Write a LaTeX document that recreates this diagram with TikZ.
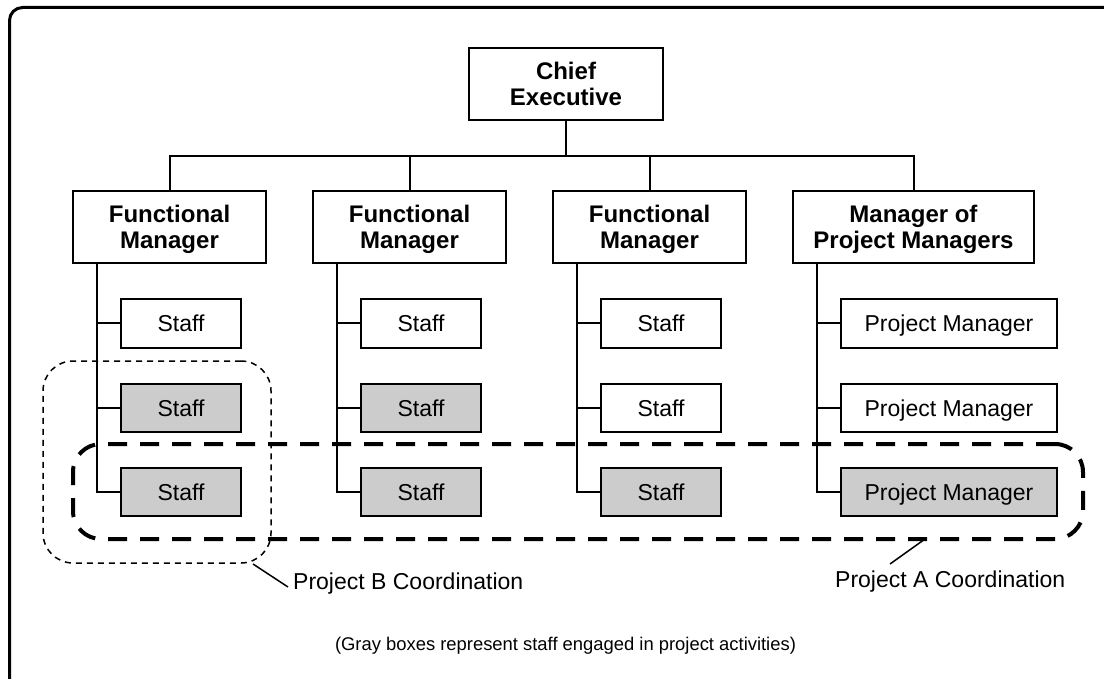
\documentclass[tikz,border=0pt]{standalone}
\usepackage{fontspec}
\setmainfont{Liberation Sans}
\definecolor{boxgray}{RGB}{204,204,204}
\begin{document}
\begin{tikzpicture}[x=1pt,y=-1pt,
  mgr/.style={draw,line width=2pt,minimum width=193pt,minimum height=72pt,align=center,
    font=\fontsize{24}{26}\selectfont\bfseries,inner sep=0pt,text height=43pt,text depth=0pt},
  stf/.style={draw,line width=2pt,minimum width=120pt,minimum height=48.5pt,
    font=\fontsize{23}{26}\selectfont,inner sep=0pt,text height=16.5pt,text depth=0pt},
  pmbox/.style={stf,minimum width=216pt},
  act/.style={fill=boxgray},
  link/.style={line width=2pt},
  lbl/.style={font=\fontsize{23}{26}\selectfont,inner sep=0pt},
]
\useasboundingbox (0,0) rectangle (1104,679);
\clip (0,0) rectangle (1104,679);
\draw[line width=3pt,rounded corners=13pt] (9.5,7.5) rectangle (1140,720);

% top
\node[mgr,minimum width=194pt] (ce) at (566,84) {Chief\\Executive};
\node[mgr] (fm1) at (169.5,227.5) {Functional\\Manager};
\node[mgr] (fm2) at (409.5,227.5) {Functional\\Manager};
\node[mgr] (fm3) at (649.5,227.5) {Functional\\Manager};
\node[mgr,minimum width=241pt] (mpm) at (913.5,227.5) {Manager of\\Project Managers};

\coordinate (bar) at (0,156);
\draw[link] (ce.south) -- (ce.south |- bar);
\draw[link] (fm1.north) -- (fm1.north |- bar) -- (mpm.north |- bar) -- (mpm.north);
\draw[link] (fm2.north) -- (fm2.north |- bar);
\draw[link] (fm3.north) -- (fm3.north |- bar);

% staff
\node[stf] (s11) at (181,323.5) {Staff};
\node[stf,act] (s12) at (181,408) {Staff};
\node[stf,act] (s13) at (181,492) {Staff};
\node[stf] (s21) at (421,323.5) {Staff};
\node[stf,act] (s22) at (421,408) {Staff};
\node[stf,act] (s23) at (421,492) {Staff};
\node[stf] (s31) at (661,323.5) {Staff};
\node[stf] (s32) at (661,408) {Staff};
\node[stf,act] (s33) at (661,492) {Staff};
\node[pmbox] (p1) at (949,323.5) {Project Manager};
\node[pmbox] (p2) at (949,408) {Project Manager};
\node[pmbox,act] (p3) at (949,492) {Project Manager};

\foreach \m/\a/\b/\c in {fm1/s11/s12/s13, fm2/s21/s22/s23, fm3/s31/s32/s33, mpm/p1/p2/p3}{
  \coordinate (t) at ([xshift=25pt]\m.south west);
  \draw[link] (t) |- (\c.west);
  \draw[link] (t |- \a.west) -- (\a.west);
  \draw[link] (t |- \b.west) -- (\b.west);
}

% coordination groups
\node[draw,line width=1.5pt,dash pattern=on 6pt off 5pt,rounded corners=30pt,
  minimum width=228pt,minimum height=202pt,inner sep=0pt] (pb) at (157,462) {};
\node[draw,line width=4pt,dash pattern=on 19pt off 13pt,rounded corners=28pt,
  minimum width=1010pt,minimum height=95pt,inner sep=0pt] (pa) at (578,491.5) {};

\node[lbl,anchor=base west] (lb) at (293,589) {Project B Coordination};
\node[lbl,anchor=base west] (la) at (835,587) {Project A Coordination};
\coordinate (pb1) at (253,564);
\coordinate (pb2) at (288,587);
\coordinate (pa1) at (925,539);
\coordinate (pa2) at (890,564);
\draw[line width=1.5pt] (pb1) -- (pb2);
\draw[line width=1.5pt] (pa1) -- (pa2);

\node[font=\fontsize{18.4}{22}\selectfont,anchor=base,inner sep=0pt] (note) at (565.5,650)
  {(Gray boxes represent staff engaged in project activities)};
\end{tikzpicture}
\end{document}
